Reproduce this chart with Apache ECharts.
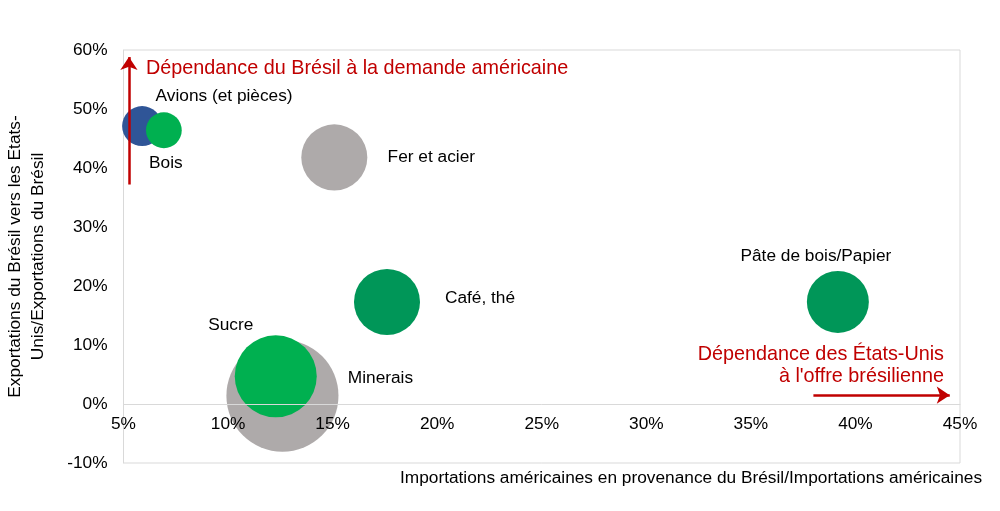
<!DOCTYPE html>
<html>
<head>
<meta charset="utf-8">
<script src="https://cdn.jsdelivr.net/npm/echarts@6/dist/echarts.min.js"></script>
<style>html,body{margin:0;padding:0;background:#fff}#c{width:1000px;height:511px}</style>
</head>
<body>
<div id="c"></div>
<script>
// Data (draw order: Minerais under Sucre, Avions under Bois)
const categories = ['Avions (et pièces)', 'Bois', 'Fer et acier', 'Café, thé', 'Pâte de bois/Papier', 'Minerais', 'Sucre'];
const importShare = [5.89, 6.93, 15.08, 17.6, 39.16, 12.6, 12.28];   // x, %
const exportShare = [47.1, 46.4, 41.8, 17.3, 17.3, 1.4, 4.7];         // y, %
const bubbleSize = [4.0, 3.2, 10.9, 10.9, 9.6, 31.4, 16.8];           // bubble value
const xTicks = [5, 10, 15, 20, 25, 30, 35, 40, 45];
const yTicks = [-10, 0, 10, 20, 30, 40, 50, 60];

const colors = ['#2F5597', '#00B050', '#AEAAAA', '#009658', '#009658', '#AEAAAA', '#00B050'];
const labelOffsets = [[82, -30], [2, 33], [97, 0], [93, -4], [-22, -46], [98, -17], [-45, -51]];

const FONT = "'Liberation Sans', Arial, sans-serif";
const RED = '#C00000';

const data = categories.map((c, i) => ({
  name: c,
  value: [importShare[i], exportShare[i], bubbleSize[i]],
  itemStyle: { color: colors[i], opacity: 1 },
  label: { offset: labelOffsets[i] }
}));

const gridTop = 50, gridBottom = 48, H = 511;
const pxPerUnit = (H - gridTop - gridBottom) / (yTicks[yTicks.length - 1] - yTicks[0]);

const chart = echarts.init(document.getElementById('c'), null, { renderer: 'canvas' });
chart.setOption({
  animation: false,
  backgroundColor: '#fff',
  grid: { left: 123.5, right: 40, top: gridTop, bottom: gridBottom, show: true, borderColor: '#D9D9D9', borderWidth: 1, containLabel: false, outerBoundsMode: 'none' },
  xAxis: {
    type: 'value', min: xTicks[0], max: xTicks[xTicks.length - 1], interval: 5,
    position: 'bottom',
    z: 5,
    offset: -(0 - yTicks[0]) * pxPerUnit,
    axisLine: { onZero: false, lineStyle: { color: '#D9D9D9' } },
    axisTick: { show: false },
    splitLine: { show: false },
    axisLabel: { formatter: '{value}%', color: '#000', fontSize: 17.3, fontFamily: FONT, margin: 12 }
  },
  yAxis: {
    type: 'value', min: yTicks[0], max: yTicks[yTicks.length - 1], interval: 10,
    axisLine: { show: true, onZero: false, lineStyle: { color: '#D9D9D9' } },
    axisTick: { show: false },
    splitLine: { show: false },
    axisLabel: { formatter: '{value}%', color: '#000', fontSize: 17.3, fontFamily: FONT, margin: 16 },
    name: 'Exportations du Brésil vers les Etats-\nUnis/Exportations du Brésil',
    nameLocation: 'middle', nameRotate: 90, nameGap: 74,
    nameTextStyle: { color: '#000', fontSize: 17.3, fontFamily: FONT, lineHeight: 23, align: 'center' }
  },
  series: [{
    type: 'scatter',
    z: 2,
    data: data,
    symbolSize: v => 20 * Math.sqrt(v[2]),
    label: {
      show: true, position: 'inside', formatter: p => p.name,
      color: '#000', fontSize: 17.3, fontFamily: FONT
    },
    emphasis: { disabled: true },
    markLine: {
      silent: true,
      symbol: ['none', 'arrow'],
      symbolSize: 13,
      label: { show: false },
      lineStyle: { color: RED, width: 2.5, type: 'solid' },
      itemStyle: { color: RED },
      data: [
        [{ coord: [5.26, 37.2] }, { coord: [5.26, 58.8] }],
        [{ coord: [37.99, 1.5] }, { coord: [44.51, 1.5] }]
      ]
    }
  }],
  graphic: [
    { type: 'text', x: 146, y: 69, style: { text: 'Dépendance du Brésil à la demande américaine', fill: RED, font: '19.8px ' + FONT, align: 'left', verticalAlign: 'middle' } },
    { type: 'text', x: 944, y: 366, style: { text: 'Dépendance des États-Unis\nà l\'offre brésilienne', fill: RED, font: '19.8px ' + FONT, align: 'right', verticalAlign: 'middle', lineHeight: 22 } },
    { type: 'text', x: 691, y: 478, style: { text: 'Importations américaines en provenance du Brésil/Importations américaines', fill: '#000', font: '17.3px ' + FONT, align: 'center', verticalAlign: 'middle' } }
  ]
});
</script>
</body>
</html>
